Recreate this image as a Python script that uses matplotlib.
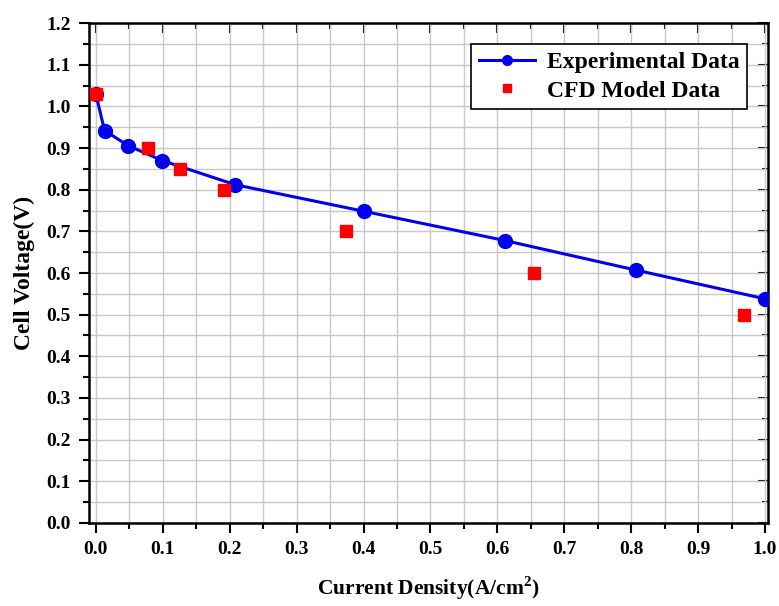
import numpy as np
import matplotlib
matplotlib.use("Agg")
import matplotlib.pyplot as plt
from matplotlib.ticker import MultipleLocator

# ── data ──────────────────────────────────────────────
exp_current = [0.0, 0.013, 0.048, 0.099, 0.208, 0.401, 0.611, 0.807, 1.0]
exp_voltage = [1.03, 0.942, 0.906, 0.870, 0.812, 0.748, 0.678, 0.607, 0.538]

cfd_current = [0.0, 0.078, 0.126, 0.191, 0.374, 0.655, 0.969]
cfd_voltage = [1.03, 0.90, 0.85, 0.80, 0.70, 0.60, 0.50]

x_ticks = np.arange(0, 1.01, 0.1)
y_ticks = np.arange(0, 1.21, 0.1)

plt.rcParams["font.family"] = ["Liberation Serif", "DejaVu Serif"]
plt.rcParams["font.weight"] = "bold"
plt.rcParams["mathtext.fontset"] = "custom"
plt.rcParams["mathtext.rm"] = "Liberation Serif:bold"
plt.rcParams["mathtext.bf"] = "Liberation Serif:bold"

fig = plt.figure(figsize=(7.79, 6.06), dpi=100)
ax = fig.add_axes([0.114, 0.137, 0.872, 0.825])

ax.plot(exp_current, exp_voltage, color="#0000ee", lw=2.2, marker="o", ms=10,
        label="Experimental Data", zorder=3)
ax.plot(cfd_current, cfd_voltage, ls="none", color="#ff0000", marker="s", ms=9,
        label="CFD Model Data", zorder=4)

ax.set_xlim(-0.0105, 1.0045)
ax.set_ylim(0, 1.2)
ax.set_xticks(x_ticks)
ax.set_yticks(y_ticks)
ax.set_xticklabels([f"{v:.1f}" for v in x_ticks], fontsize=14, fontweight="bold")
ax.set_yticklabels([f"{v:.1f}" for v in y_ticks], fontsize=14, fontweight="bold")
ax.xaxis.set_minor_locator(MultipleLocator(0.05))
ax.yaxis.set_minor_locator(MultipleLocator(0.05))

ax.grid(which="both", color="#c8c8c8", lw=1.0, zorder=0)
ax.set_axisbelow(True)

ax.tick_params(which="major", direction="out", length=7, width=1.5, pad=6)
ax.tick_params(which="minor", direction="out", length=4, width=1.5)
for s in ax.spines.values():
    s.set_linewidth(1.8)

# inward ticks on top and right
top = ax.secondary_xaxis("top")
top.set_xticks(x_ticks)
top.xaxis.set_minor_locator(MultipleLocator(0.05))
top.tick_params(which="both", direction="in", labeltop=False, width=1.5)
top.tick_params(which="major", length=7)
top.tick_params(which="minor", length=4)
right = ax.secondary_yaxis("right")
right.set_yticks(y_ticks)
right.yaxis.set_minor_locator(MultipleLocator(0.05))
right.tick_params(which="both", direction="in", labelright=False, width=1.5)
right.tick_params(which="major", length=7)
right.tick_params(which="minor", length=4)

ax.set_xlabel("Current Density(A/cm$^{2}$)", fontsize=15.5, fontweight="bold", labelpad=12)
ax.set_ylabel("Cell Voltage(V)", fontsize=17, fontweight="bold", labelpad=8)

leg = ax.legend(loc="upper right", fontsize=17, frameon=True, fancybox=False,
                edgecolor="black", framealpha=1, borderaxespad=0.9,
                handlelength=2.4, borderpad=0.3, labelspacing=0.3,
                markerscale=0.7, handletextpad=0.5)
leg.get_frame().set_linewidth(1.2)
for t in leg.get_texts():
    t.set_fontweight("bold")

fig.savefig("out.png", dpi=100)
